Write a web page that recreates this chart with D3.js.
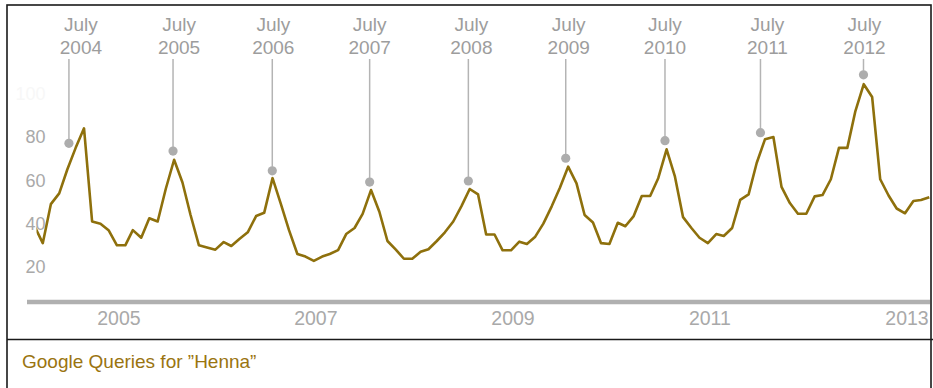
<!DOCTYPE html>
<html><head><meta charset="utf-8">
<script src="https://cdn.jsdelivr.net/npm/d3@7"></script>
<style>
html,body{margin:0;padding:0;background:#fff;}
svg{display:block;font-family:"Liberation Sans",Arial,sans-serif;}
</style>
</head><body>
<svg id="chart" width="933" height="388"></svg>
<script>
// ---------------- data ----------------
const firstMonth = "2004-03";
const lastMonth = "2013-04";
const queries = [
  39, 31, 49, 54, 65, 75, 84, 41, 40, 37,
  30, 30, 37, 33.5, 42.5, 41, 56, 69.5, 59, 44,
  30, 29, 28, 31.5, 29.7, 33, 36, 43.5, 45, 61,
  49, 37, 26, 24.8, 22.8, 24.8, 26, 27.8, 35.2, 38,
  44.5, 55.5, 45.5, 32, 28, 23.8, 23.8, 27, 28.2, 32,
  36, 41, 48, 56, 53.5, 35, 35, 27.7, 27.7, 31.7,
  30.6, 34, 40, 48, 56.5, 66.3, 58.6, 44, 40.5, 31,
  30.6, 40.4, 38.8, 43.5, 52.8, 52.8, 61, 74.3, 61.7, 43,
  38, 33.5, 31, 35.2, 34.3, 38, 51, 53.5, 68, 79,
  80, 57, 49.5, 44.6, 44.6, 52.6, 53.2, 60.5, 75, 75,
  92, 104.4, 98.5, 60.5, 53, 47, 44.8, 50.5, 50.9, 52.2
];
const yTickValues = [20, 40, 60, 80];
const yFaintTick = [100];
const xTickYears = [2005, 2007, 2009, 2011, 2013];
const annMonthWord = "July";
const annYears = [2004, 2005, 2006, 2007, 2008, 2009, 2010, 2011, 2012];
const annDates = ["2004-07-07", "2005-07-28", "2006-07-31", "2007-07-27", "2008-07-27",
                  "2009-07-23", "2010-07-26", "2011-07-15", "2012-07-31"];
const annValues = [77.1, 73.5, 64.4, 59.2, 59.7, 70.2, 78.3, 82, 108.7];
const seriesLabel = "Google Queries for \u201DHenna\u201D";

// ---------------- layout ----------------
const W = 933, H = 388;
const labelNudge = [12, 6, 1, 0, 3, 3, 0, 7, 1];
const lineColor = "#8e700c";
const grey = "#a9a9a9";

const parseMonth = d3.timeParse("%Y-%m");
const parseDay = d3.timeParse("%Y-%m-%d");
const t0 = parseMonth(firstMonth);
const series = queries.map((v, i) => ({ date: d3.timeMonth.offset(t0, i), value: v }));

const x = d3.scaleTime()
  .domain([t0, parseMonth(lastMonth)])
  .range([34.4, 929.3]);
const y = d3.scaleLinear()
  .domain([0, 100])
  .range([310.3, 93.7]);

const svg = d3.select("#chart");

// clip for plotting region (line starts at the panel's inner edge)
svg.append("clipPath").attr("id", "plotClip")
  .append("rect").attr("x", 36.5).attr("y", 0).attr("width", W - 36.5).attr("height", 300);

// frame
svg.append("rect").attr("x", 7).attr("y", 5).attr("width", 924).attr("height", 400)
  .attr("fill", "none").attr("stroke", "#1a1a1a").attr("stroke-width", 1.6);
svg.append("line").attr("x1", 7).attr("x2", W).attr("y1", 339.5).attr("y2", 339.5)
  .attr("stroke", "#1a1a1a").attr("stroke-width", 1.6);

// x axis base line
svg.append("line").attr("x1", 27).attr("x2", 930).attr("y1", 302).attr("y2", 302)
  .attr("stroke", "#b0b0b0").attr("stroke-width", 4.5);

// x axis tick labels
const xAxis = d3.axisBottom(x)
  .tickValues(xTickYears.map(yr => new Date(yr, 0, 1)))
  .tickFormat(d3.timeFormat("%Y"))
  .tickSize(0).tickPadding(0);
const gx = svg.append("g").attr("transform", "translate(1.5,0)").call(xAxis);
gx.select(".domain").remove();
gx.selectAll("text")
  .attr("y", 318).attr("dy", "0.35em")
  .attr("fill", grey)
  .style("font-size", "19.5px")
  .style("font-family", "'Liberation Sans', Arial, sans-serif");

// y axis labels
const yAxis = d3.axisLeft(y).tickValues(yTickValues).tickSize(0).tickPadding(0);
const gy = svg.append("g").attr("transform", "translate(45.5,0)").call(yAxis);
gy.select(".domain").remove();
gy.selectAll("text")
  .attr("fill", grey)
  .style("font-size", "18px")
  .style("font-family", "'Liberation Sans', Arial, sans-serif");
svg.append("g").selectAll("text").data(yFaintTick).join("text")
  .attr("x", 45.5).attr("y", d => y(d)).attr("dy", "0.35em")
  .attr("text-anchor", "end").attr("fill", "#f7f7f7")
  .style("font-size", "18px").text(d => d);

// series line
const lineGen = d3.line().x(d => x(d.date)).y(d => y(d.value));
svg.append("path").datum(series)
  .attr("d", lineGen)
  .attr("clip-path", "url(#plotClip)")
  .attr("fill", "none")
  .attr("stroke", lineColor)
  .attr("stroke-width", 2.6)
  .attr("stroke-linejoin", "round");

// annotations
const ann = annYears.map((yr, i) => ({
  year: yr, date: parseDay(annDates[i]), value: annValues[i], nudge: labelNudge[i]
}));
const ga = svg.append("g");
ga.selectAll("line").data(ann).join("line")
  .attr("x1", d => x(d.date)).attr("x2", d => x(d.date))
  .attr("y1", 59).attr("y2", d => y(d.value) - 4)
  .attr("stroke", "#b4b4b4").attr("stroke-width", 1.5);
ga.selectAll("circle").data(ann).join("circle")
  .attr("cx", d => x(d.date)).attr("cy", d => y(d.value)).attr("r", 4.6)
  .attr("fill", "#adadad");
const lbl = ga.selectAll("text").data(ann).join("text")
  .attr("text-anchor", "middle")
  .attr("fill", "#9d9d9d")
  .style("font-size", "19px");
lbl.append("tspan").attr("x", d => x(d.date) + d.nudge).attr("y", 31).text(annMonthWord);
lbl.append("tspan").attr("x", d => x(d.date) + d.nudge).attr("y", 53.5).text(d => d.year);

// legend / caption
svg.append("text").attr("x", 22).attr("y", 367.5)
  .attr("fill", "#9a7410")
  .style("font-size", "19px")
  .text(seriesLabel);
</script>
</body></html>
